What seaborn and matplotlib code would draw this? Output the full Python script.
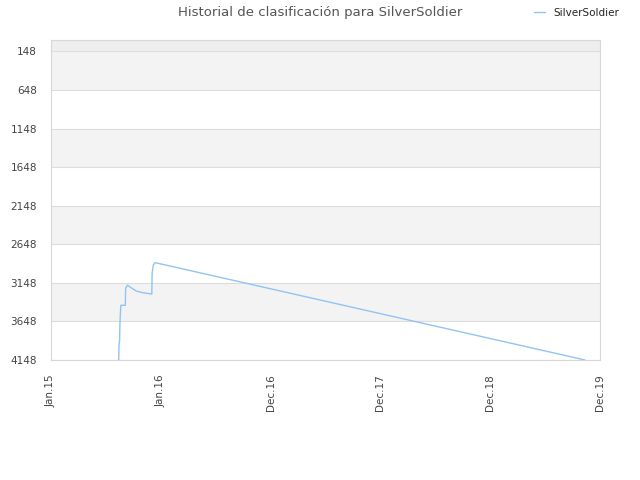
import pandas as pd
import seaborn as sns
import matplotlib.pyplot as plt

sns.set_style("white")
plt.rcParams['font.family'] = ['DejaVu Sans']

# ranking history values
dates = ["2015-08-14", "2015-08-15", "2015-08-17", "2015-08-18", "2015-08-21",
         "2015-09-05", "2015-09-06", "2015-09-12", "2015-09-27", "2015-10-12",
         "2015-11-02", "2015-12-02", "2015-12-03", "2015-12-07", "2015-12-13",
         "2019-11-11"]
ranks = [4148, 3954, 3900, 3672, 3439, 3439, 3219, 3177, 3219, 3255,
         3276, 3293, 3025, 2916, 2886, 4148]
ytick_vals = [148, 648, 1148, 1648, 2148, 2648, 3148, 3648, 4148]
xtick_dates = ["2015-01-01", "2016-01-01", "2016-12-31", "2017-12-31", "2018-12-31", "2019-12-31"]
xtick_labels = ["Jan.15", "Jan.16", "Dec.16", "Dec.17", "Dec.18", "Dec.19"]

df = pd.DataFrame({"date": pd.to_datetime(dates), "rank": ranks})

fig = plt.figure(figsize=(6.4, 4.8), dpi=100)
ax = fig.add_axes([0.0797, 0.25, 0.858, 0.6667])

# alternating bands
ax.axhspan(0, 148, color="#eeeeee", zorder=0, lw=0)
for i in range(len(ytick_vals) - 1):
    if i % 2 == 0:
        ax.axhspan(ytick_vals[i], ytick_vals[i + 1], color="#f3f3f3", zorder=0, lw=0)
for v in ytick_vals:
    ax.axhline(v, color="#dddddd", lw=0.8, zorder=1)

sns.lineplot(data=df, x="date", y="rank", estimator=None, color="#91c3f5",
             lw=1.0, ax=ax, label="SilverSoldier", zorder=3)

xt = pd.to_datetime(xtick_dates)
ax.set_xlim(xt[0], xt[-1])
ax.set_ylim(4148, 0)
ax.set_xticks(xt)
ax.set_xticklabels(xtick_labels, rotation=90, fontsize=7.5, color="#444444")
ax.set_yticks(ytick_vals)
ax.set_yticklabels([str(v) for v in ytick_vals], fontsize=7.5, color="#444444")
ax.tick_params(axis="x", length=0, pad=10)
ax.tick_params(axis="y", length=0, pad=10)
ax.set_xlabel("")
ax.set_ylabel("")
for s in ax.spines.values():
    s.set_color("#d8d8d8")
    s.set_linewidth(0.8)

ax.legend(loc="center", bbox_to_anchor=(0.957, 1.085), frameon=False, fontsize=7.5,
          handlelength=1.0, handletextpad=0.8)
fig.text(0.50, 0.973, "Historial de clasificación para SilverSoldier", ha="center",
         va="center", fontsize=9.5, color="#555555")

fig.savefig("out.png", dpi=100)
